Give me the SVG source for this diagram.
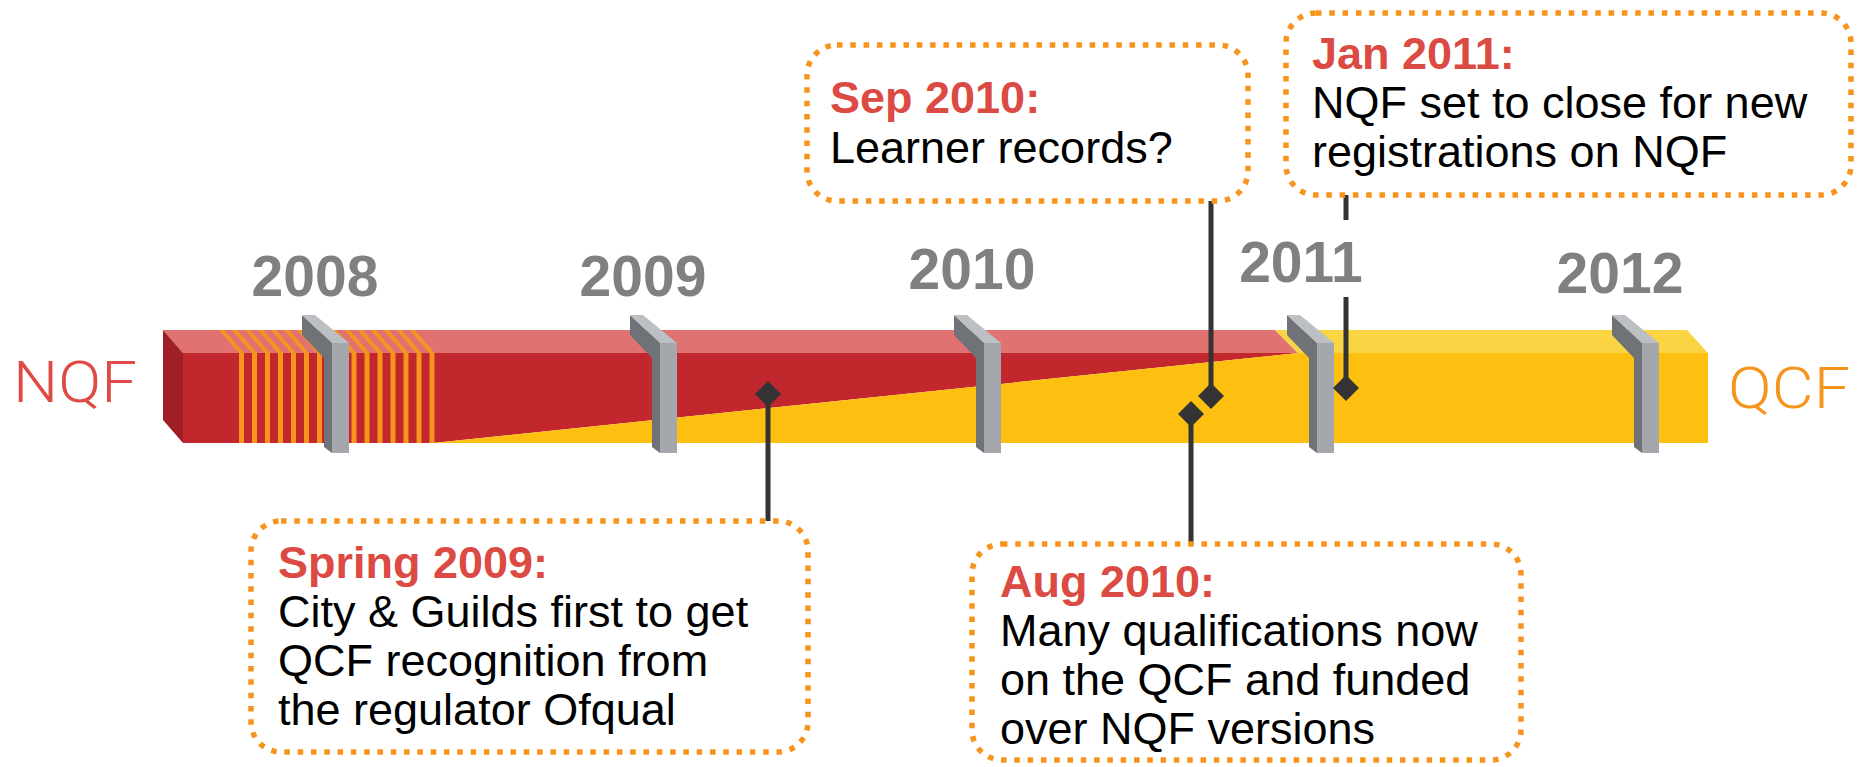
<svg xmlns="http://www.w3.org/2000/svg" width="1863" height="767" viewBox="0 0 1863 767">
<style>
.yr{font-family:"Liberation Sans",Arial,sans-serif;font-weight:bold;font-size:57px;fill:#808080;text-anchor:middle}
.lbl{font-family:"Liberation Sans",Arial,sans-serif;font-weight:bold;font-size:45px;fill:#db4a43}
.txt{font-family:"Liberation Sans",Arial,sans-serif;font-size:45px;fill:#000}
.fw{font-family:Roboto,"Liberation Sans",sans-serif;font-weight:300;font-size:57px}
.box{fill:#fff;stroke:#f7941d;stroke-width:5.5;stroke-dasharray:5.5 7.8}
.conn{stroke:#333;stroke-width:5;fill:none}
.dia{fill:#333}
.pf{fill:#a4a7ac}.pd{fill:#6f7277}.pc{fill:#bcbfc3}
.st{fill:#f7941d}
</style>
<defs>
<g id="post">
<polygon class="pd" points="-30,315 0,343 0,453 -8,447 -8,358 -30,335"/>
<polygon class="pc" points="-30,315 -17,315 17,343 0,343"/>
<rect class="pf" x="0" y="343" width="17" height="110"/>
</g>
<g id="stripe">
<polygon class="st" points="0,353 5,353 -15,330 -20,330"/>
<rect class="st" x="0" y="353" width="5" height="90"/>
</g>
</defs>

<g id="bar">
<polygon fill="#e07272" points="163,330 1275,330 1298,353 183,353"/>
<polygon fill="#fad443" points="1275,330 1687,330 1708,353 1298,353"/>
<polygon fill="#9e1f24" points="163,330 183,353 183,443 163,420"/>
<polygon fill="#c1272d" points="183,353 1298,353 433,443 183,443"/>
<polygon fill="#fdc010" points="433,443 1298,353 1708,353 1708,443"/>
<g id="stripes">
<use href="#stripe" x="239"/><use href="#stripe" x="252"/><use href="#stripe" x="265"/><use href="#stripe" x="278"/><use href="#stripe" x="291"/><use href="#stripe" x="304"/><use href="#stripe" x="317"/>
<use href="#stripe" x="351.5"/><use href="#stripe" x="364.5"/><use href="#stripe" x="377.5"/><use href="#stripe" x="390.5"/><use href="#stripe" x="403.5"/><use href="#stripe" x="416.5"/><use href="#stripe" x="429.5"/>
</g>
</g>

<g id="posts">
<use href="#post" x="332"/>
<use href="#post" x="660"/>
<use href="#post" x="984"/>
<use href="#post" x="1317"/>
<use href="#post" x="1642"/>
</g>

<g id="years">
<text class="yr" x="315" y="296">2008</text>
<text class="yr" x="643" y="296">2009</text>
<text class="yr" x="972" y="289">2010</text>
<text class="yr" x="1301" y="282">2011</text>
<text class="yr" x="1620" y="293">2012</text>
</g>

<g id="nqf"><text class="fw" x="13" y="402" fill="#e04a44" textLength="124" lengthAdjust="spacingAndGlyphs">NQF</text></g>
<g id="qcf"><text class="fw" x="1728" y="408" fill="#f7941d" textLength="122" lengthAdjust="spacingAndGlyphs">QCF</text></g>

<g id="connectors">
<line class="conn" x1="768" y1="394" x2="768" y2="521"/>
<polygon class="dia" points="768,381 781,394 768,407 755,394"/>
<line class="conn" x1="1211" y1="201" x2="1211" y2="396"/>
<polygon class="dia" points="1211,383 1224,396 1211,409 1198,396"/>
<line class="conn" x1="1191" y1="414" x2="1191" y2="544"/>
<polygon class="dia" points="1191,401 1204,414 1191,427 1178,414"/>
<line class="conn" x1="1346" y1="195" x2="1346" y2="220"/>
<line class="conn" x1="1346" y1="297" x2="1346" y2="388"/>
<polygon class="dia" points="1346,375 1359,388 1346,401 1333,388"/>
</g>

<g id="spring2009">
<rect class="box" x="251" y="521" width="557" height="231" rx="30"/>
<text class="lbl" x="278" y="578">Spring 2009:</text>
<text class="txt" x="278" y="627">City &amp; Guilds first to get</text>
<text class="txt" x="278" y="676">QCF recognition from</text>
<text class="txt" x="278" y="725">the regulator Ofqual</text>
</g>

<g id="sep2010">
<rect class="box" x="807" y="45" width="441" height="156" rx="30"/>
<text class="lbl" x="830" y="113">Sep 2010:</text>
<text class="txt" x="830" y="163">Learner records?</text>
</g>

<g id="jan2011">
<rect class="box" x="1286" y="13" width="565" height="182" rx="30"/>
<text class="lbl" x="1312" y="69">Jan 2011:</text>
<text class="txt" x="1312" y="118">NQF set to close for new</text>
<text class="txt" x="1312" y="167">registrations on NQF</text>
</g>

<g id="aug2010">
<rect class="box" x="972" y="544" width="549" height="216" rx="30"/>
<text class="lbl" x="1000" y="597">Aug 2010:</text>
<text class="txt" x="1000" y="646">Many qualifications now</text>
<text class="txt" x="1000" y="695">on the QCF and funded</text>
<text class="txt" x="1000" y="744">over NQF versions</text>
</g>
</svg>
